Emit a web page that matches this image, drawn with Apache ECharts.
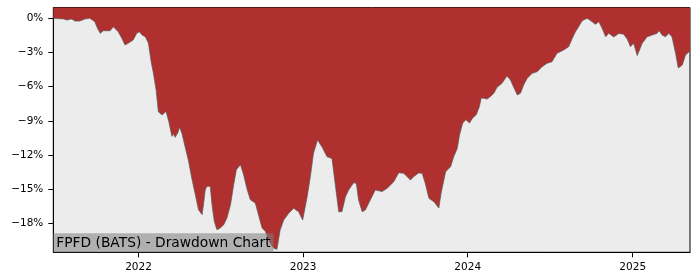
<!DOCTYPE html>
<html><head><meta charset="utf-8">
<script src="https://cdn.jsdelivr.net/npm/echarts@6/dist/echarts.min.js"></script>
<style>html,body{margin:0;padding:0;background:#fff}#c{width:700px;height:280px}</style>
</head><body><div id="c"></div>
<script>
const dates = ['2021-06-26','2021-07-19','2021-07-26','2021-08-06','2021-08-13','2021-08-24','2021-09-04','2021-09-15','2021-09-26','2021-10-02','2021-10-08','2021-10-15','2021-10-30','2021-11-06','2021-11-10','2021-11-17','2021-11-25','2021-12-02','2021-12-09','2021-12-20','2021-12-28',
'2022-01-03','2022-01-09','2022-01-16','2022-01-23','2022-01-29','2022-02-03','2022-02-09','2022-02-14','2022-02-22','2022-02-26','2022-03-03','2022-03-09','2022-03-16','2022-03-20','2022-03-23','2022-03-29','2022-04-02','2022-04-07','2022-04-15','2022-04-22','2022-04-29','2022-05-07','2022-05-14','2022-05-22','2022-05-25','2022-05-29','2022-06-02','2022-06-09','2022-06-13','2022-06-18','2022-06-24','2022-07-01','2022-07-09','2022-07-16','2022-07-24','2022-07-31','2022-08-06','2022-08-15','2022-08-22','2022-08-30','2022-09-06','2022-09-17','2022-09-24','2022-10-02','2022-10-09','2022-10-20','2022-10-28','2022-11-04','2022-11-11','2022-11-19','2022-11-30','2022-12-11','2022-12-22','2022-12-31',
'2023-01-10','2023-01-17','2023-01-24','2023-02-02','2023-02-12','2023-02-23','2023-03-06','2023-03-13','2023-03-21','2023-03-28','2023-04-05','2023-04-12','2023-04-23','2023-04-29','2023-05-04','2023-05-12','2023-05-19','2023-05-30','2023-06-10','2023-06-25','2023-07-06','2023-07-21','2023-08-01','2023-08-12','2023-08-20','2023-08-27','2023-09-03','2023-09-14','2023-09-22','2023-09-29','2023-10-07','2023-10-18','2023-10-29','2023-11-03','2023-11-13','2023-11-24','2023-12-01','2023-12-09','2023-12-14','2023-12-21','2023-12-28',
'2024-01-05','2024-01-12','2024-01-20','2024-01-27','2024-01-31','2024-02-06','2024-02-13','2024-02-20','2024-02-28','2024-03-06','2024-03-17','2024-03-28','2024-04-05','2024-04-12','2024-04-20','2024-04-27','2024-05-04','2024-05-12','2024-05-23','2024-06-03','2024-06-14','2024-06-25','2024-07-06','2024-07-17','2024-08-01','2024-08-12','2024-08-20','2024-08-27','2024-09-03','2024-09-11','2024-09-22','2024-10-03','2024-10-10','2024-10-18','2024-10-25','2024-11-02','2024-11-09','2024-11-20','2024-12-01','2024-12-12','2024-12-20','2024-12-27',
'2025-01-03','2025-01-11','2025-01-22','2025-02-02','2025-02-13','2025-02-24','2025-03-01','2025-03-07','2025-03-15','2025-03-22','2025-03-29','2025-04-06','2025-04-12','2025-04-21','2025-04-28','2025-05-08'];
const drawdown = [0,-0.06,-0.15,-0.06,-0.24,-0.24,-0.06,0,-0.30,-0.88,-1.32,-1.09,-1.09,-0.74,-0.65,-1.18,-1.76,-2.34,-2.19,-1.91,-1.32,
-1.18,-1.47,-1.62,-2.19,-3.81,-4.83,-6.30,-8.20,-8.49,-8.52,-8.17,-9.04,-10.36,-10.16,-10.45,-10.07,-9.57,-10.07,-11.39,-12.55,-14.02,-15.49,-16.80,-17.24,-16.37,-15.05,-14.75,-14.75,-16.37,-17.82,-18.56,-18.41,-18.12,-17.53,-16.37,-14.61,-13.29,-12.85,-13.73,-15.05,-15.93,-16.22,-17.24,-18.41,-18.68,-19.75,-20.19,-20.28,-18.59,-17.71,-17.12,-16.68,-16.98,-17.71,
-15.66,-13.91,-11.85,-10.68,-11.30,-12.15,-12.31,-14.49,-16.98,-16.98,-15.66,-15.07,-14.43,-14.49,-15.95,-16.98,-16.83,-15.95,-15.07,-15.21,-14.93,-14.35,-13.56,-13.61,-13.91,-14.20,-13.91,-13.58,-13.61,-14.49,-15.80,-16.10,-16.66,-15.36,-13.47,-13.03,-12.15,-11.41,-10.22,-9.19,-8.90,
-9.19,-8.75,-8.46,-7.73,-7.00,-7.02,-7.09,-6.88,-6.58,-6.06,-5.71,-5.07,-5.42,-6.06,-6.73,-6.58,-5.86,-5.27,-4.83,-4.69,-4.25,-3.95,-3.81,-3.07,-2.78,-2.49,-1.76,-1.18,-0.74,-0.21,0,-0.30,-0.53,-0.30,-0.88,-1.62,-1.32,-1.64,-1.33,-1.40,-1.84,-2.49,
-2.19,-3.27,-2.19,-1.62,-1.47,-1.32,-1.09,-1.47,-1.62,-1.32,-1.62,-3.07,-4.36,-4.10,-3.22,-2.87];
const yTicks = [0,-3,-6,-9,-12,-15,-18];
const xTickDates = ['2022-01-01','2023-01-01','2024-01-01','2025-01-01'];
const titleText = 'FPFD (BATS) - Drawdown Chart';

const ts = s => new Date(s + 'T00:00:00').getTime();
const chart = echarts.init(document.getElementById('c'), null, {renderer:'canvas'});
const font = 'DejaVu Sans';
const xTicks = xTickDates.map(ts);
chart.setOption({
  animation:false,
  grid:{left:53.3,right:10,top:7.5,bottom:27.7,show:true,backgroundColor:'#ececec',borderColor:'#000',borderWidth:1},
  title:{text:titleText,left:53.3,bottom:27.7,backgroundColor:'rgba(128,128,128,0.55)',padding:[2,3,1,3],
    textStyle:{fontFamily:font,fontSize:13.8,fontWeight:'normal',color:'#000',lineHeight:16}},
  xAxis:{type:'value',min:ts('2021-06-26'),max:ts('2025-05-08'),
    axisLine:{show:true,onZero:false,lineStyle:{color:'#000',width:1}},
    axisTick:{show:true,length:5,lineStyle:{color:'#000'},customValues:xTicks},
    axisLabel:{fontFamily:font,fontSize:10.5,color:'#000',margin:9,customValues:xTicks,
      formatter:v=>String(new Date(v).getFullYear())},
    splitLine:{show:false}},
  yAxis:{type:'value',min:-20.54,max:0.95,
    axisLine:{show:true,lineStyle:{color:'#000',width:1}},
    axisTick:{show:true,length:5,lineStyle:{color:'#000'},customValues:yTicks},
    axisLabel:{fontFamily:font,fontSize:10.5,color:'#000',margin:10,customValues:yTicks,
      formatter:v=>(v<0?'\u2212':'')+Math.abs(v)+'%'},
    splitLine:{show:false}},
  series:[{type:'line',data:dates.map((d,i)=>[ts(d),drawdown[i]]),showSymbol:false,
    lineStyle:{color:'rgba(90,90,90,0.7)',width:1},
    areaStyle:{color:'#b03030',opacity:1,origin:'end'}}]
});
</script></body></html>
